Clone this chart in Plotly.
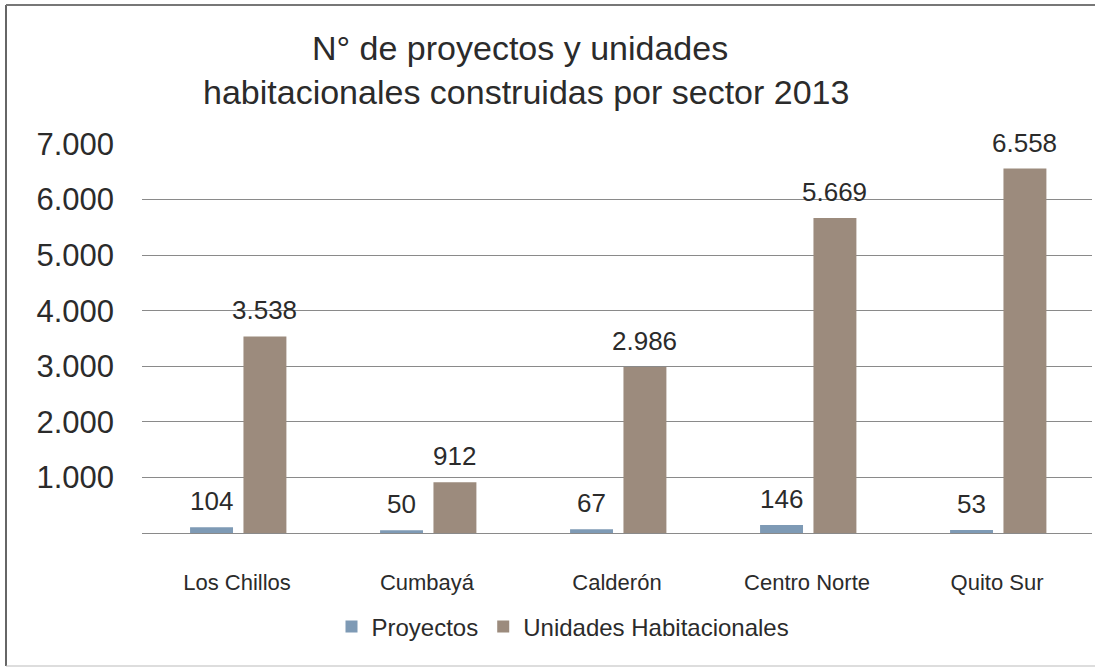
import plotly.graph_objects as go

# Sectors and series
sectores = ["Los Chillos", "Cumbayá", "Calderón", "Centro Norte", "Quito Sur"]
proyectos = [104, 50, 67, 146, 53]
unidades = [3538, 912, 2986, 5669, 6558]

y_ticks = [0, 1000, 2000, 3000, 4000, 5000, 6000, 7000]
y_tick_text = ["", "1.000", "2.000", "3.000", "4.000", "5.000", "6.000", "7.000"]

AZUL = "#7E9AB5"
CAFE = "#9C8B7D"
TEXTO = "#2b2b2b"
FUENTE = "Liberation Sans, Arial, sans-serif"

W, H = 1095, 668
ML, MR, MT, MB = 142, 3, 144, 135
PW, PH = W - ML - MR, H - MT - MB

BAR_W = 0.226
OFF_P = -0.247
OFF_U = 0.034


def miles(v):
    return f"{v:,}".replace(",", ".")


fig = go.Figure()
fig.add_trace(go.Bar(
    x=sectores, y=proyectos, name="Proyectos",
    marker=dict(color=AZUL, line=dict(width=0)),
    width=BAR_W, offset=OFF_P,
))
fig.add_trace(go.Bar(
    x=sectores, y=unidades, name="Unidades Habitacionales",
    marker=dict(color=CAFE, line=dict(width=0)),
    width=BAR_W, offset=OFF_U,
))

# value labels above each bar
anots = []
for i, (p, u) in enumerate(zip(proyectos, unidades)):
    for val, off in ((p, OFF_P), (u, OFF_U)):
        anots.append(dict(
            x=i + off + BAR_W / 2, y=val, xref="x", yref="y",
            text=miles(val), showarrow=False, yanchor="middle",
            yshift=26, font=dict(family=FUENTE, size=26, color=TEXTO),
        ))

# chart title, two lines
anots.append(dict(
    x=(520 - ML) / PW, y=(MT + PH - 48) / PH, xref="paper", yref="paper",
    text="N° de proyectos y unidades", showarrow=False,
    xanchor="center", yanchor="middle",
    font=dict(family=FUENTE, size=34, color=TEXTO),
))
anots.append(dict(
    x=(526 - ML) / PW, y=(MT + PH - 92) / PH, xref="paper", yref="paper",
    text="habitacionales construidas por sector 2013", showarrow=False,
    xanchor="center", yanchor="middle",
    font=dict(family=FUENTE, size=34, color=TEXTO),
))


def px_x(x):
    return (x - ML) / PW


def px_y(y):
    return (MT + PH - y) / PH


shapes = [
    dict(type="line", xref="paper", yref="paper",
         x0=px_x(6), x1=px_x(6), y0=px_y(5), y1=px_y(666),
         line=dict(color="#666666", width=2)),
    dict(type="line", xref="paper", yref="paper",
         x0=px_x(6), x1=px_x(1095), y0=px_y(5), y1=px_y(5),
         line=dict(color="#777777", width=2)),
    dict(type="line", xref="paper", yref="paper",
         x0=px_x(6), x1=px_x(1095), y0=px_y(666), y1=px_y(666),
         line=dict(color="#bbbbbb", width=1)),
]

fig.update_layout(
    width=W, height=H,
    margin=dict(l=ML, r=MR, t=MT, b=MB, autoexpand=False),
    paper_bgcolor="white", plot_bgcolor="white",
    barmode="group",
    showlegend=True,
    legend=dict(
        orientation="h", x=px_x(563), xanchor="center",
        y=px_y(627), yanchor="middle",
        font=dict(family=FUENTE, size=24, color=TEXTO),
        itemwidth=30, bgcolor="rgba(0,0,0,0)",
    ),
    annotations=anots,
    shapes=shapes,
    xaxis=dict(
        type="category", showgrid=False, showline=False, ticks="",
        tickfont=dict(family=FUENTE, size=22, color=TEXTO),
        ticklabelstandoff=34, zeroline=False,
    ),
    yaxis=dict(
        range=[0, 7000], tickvals=y_ticks, ticktext=y_tick_text,
        showgrid=True, gridcolor="#8a8a8a", gridwidth=1,
        zeroline=True, zerolinecolor="#8a8a8a", zerolinewidth=1,
        showline=False, ticks="",
        tickfont=dict(family=FUENTE, size=31, color=TEXTO),
        ticklabelstandoff=27,
    ),
)

fig.write_html("out.html")
